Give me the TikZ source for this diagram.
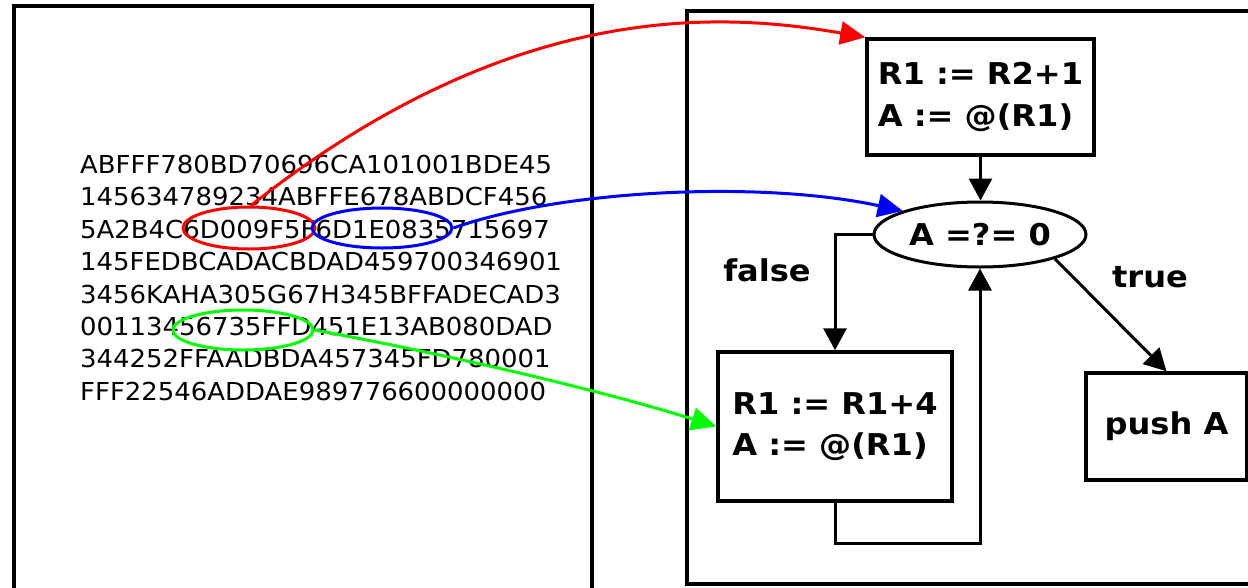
\documentclass[tikz,border=0pt]{standalone}
\usepackage{fontspec}
\setmainfont{DejaVu Sans}
\newfontfamily\hexfont[FakeStretch=1.05]{DejaVu Sans}
\newfontfamily\labfont[FakeStretch=1.07]{DejaVu Sans}
\usetikzlibrary{arrows.meta,shapes.geometric}
\begin{document}
\begin{tikzpicture}[x=1pt,y=1pt,
  frame/.style={draw, line width=3.5pt},
  codebox/.style={draw, line width=3.5pt, rectangle, align=left, inner sep=0pt,
    font=\labfont\bfseries\fontsize{30}{41.5}\selectfont},
  condnode/.style={draw, ellipse, line width=3pt, inner sep=0pt,
    minimum width=212pt, minimum height=65pt,
    font=\labfont\bfseries\fontsize{30}{36}\selectfont},
  lab/.style={inner sep=0pt, font=\labfont\bfseries\fontsize{30}{36}\selectfont},
  hextext/.style={inner sep=0pt, align=left, font=\hexfont\fontsize{24.7}{32.4}\selectfont},
  hilite/.style={draw, ellipse, line width=3pt, inner sep=0pt},
  conn/.style={draw, line width=3pt, -{Triangle[length=22pt,width=23pt]}},
  col/.style={draw, line width=3pt, -{Triangle[length=25pt,width=23pt]}}
]
\useasboundingbox (0,0) rectangle (1248,-587);
\clip (0,0) rectangle (1248,-587);
\fill[white] (0,0) rectangle (1248,-587);
\draw[frame] (14,-6) rectangle (592,-600);
\draw[frame] (687,-11) rectangle (1260,-584);

\node[hextext, anchor=north west] (hex) at (80,-155) {ABFFF780BD70696CA101001BDE45\\
145634789234ABFFE678ABDCF456\\
5A2B4C6D009F5F6D1E0835715697\\
145FEDBCADACBDAD459700346901\\
3456KAHA305G67H345BFFADECAD3\\
00113456735FFD451E13AB080DAD\\
344252FFAADBDA457345FD780001\\
FFF22546ADDAE989776600000000};

\node[hilite, draw=red, minimum width=132pt, minimum height=42pt] (redE) at (249,-228) {};
\node[hilite, draw=blue, minimum width=140pt, minimum height=40pt] (blueE) at (382,-228) {};
\node[hilite, draw=green, minimum width=140pt, minimum height=40pt] (greenE) at (243,-330) {};

\node[codebox, minimum width=227pt, minimum height=116pt] (b1) at (980.5,-97) {R1 := R2+1\\A := @(R1)};
\node[condnode] (c) at (980,-234.5) {A =?= 0};
\node[codebox, minimum width=234pt, minimum height=149pt] (b2) at (835,-426.5) {R1 := R1+4\\A := @(R1)};
\node[codebox, minimum width=161pt, minimum height=107pt] (push) at (1166.5,-426.5) {push A};
\node[lab] (fl) at (767,-270) {false};
\node[lab] (tl) at (1150,-277) {true};

\draw[conn] (b1.south) -- (b1.south |- c.north);
\draw[conn] (c.west) -| (b2.north);
\draw[conn] (b2.south) -- ++(0,-41) -| (c.south);
\draw[conn] (c.-18) -- (push.north);

\draw[col, red] (redE.85) .. controls (512,1) and (720,-12) .. (b1.north west);
\draw[col, blue] (blueE.east) .. controls (560,-190) and (760,-180) .. (c.163);
\draw[col, green] (greenE.east) .. controls (450,-355) and (600,-390) .. (b2.west);
\end{tikzpicture}
\end{document}
